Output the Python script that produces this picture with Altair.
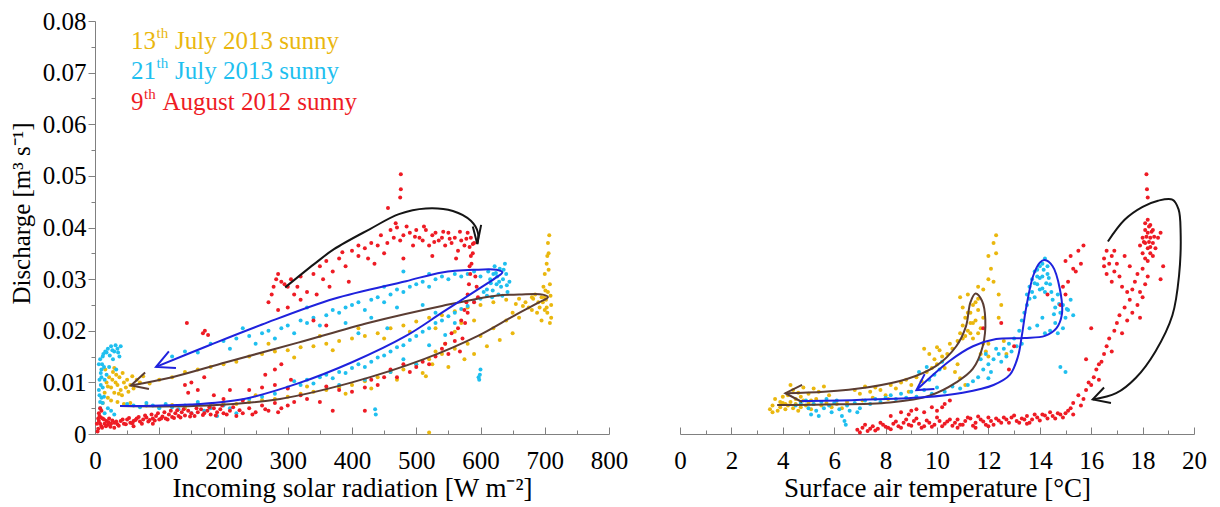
import altair as alt
import pandas as pd

FONT = "Liberation Serif"
W, H = 514, 413

# ---------------- series names / colours ----------------
SERIES = ["13th July 2013", "21th July 2013", "9th August 2012"]
CURVES = ["loop 13 July", "loop 21 July", "loop 9 August"]
COLORS = ["#EAB70E", "#1FBFEF", "#EE1B24"]
CURVE_COLORS = ["#5B3D33", "#1F22DD", "#151515"]

# ---------------- tick values ----------------
XL_TICKS = [0, 50, 100, 150, 200, 250, 300, 350, 400, 450, 500, 550, 600, 650, 700, 750, 800]
XR_TICKS = [0, 1, 2, 3, 4, 5, 6, 7, 8, 9, 10, 11, 12, 13, 14, 15, 16, 17, 18, 19, 20]
Y_TICKS = [0, 0.005, 0.01, 0.015, 0.02, 0.025, 0.03, 0.035, 0.04, 0.045, 0.05,
           0.055, 0.06, 0.065, 0.07, 0.075, 0.08]

# ---------------- left panel: radiation [W m-2] vs discharge ----------------
L_GOLD = [
    (12, 0.006), (15, 0.008), (18, 0.010), (20, 0.007), (22, 0.011), (25, 0.009), (28, 0.012),
    (30, 0.008), (32, 0.010), (35, 0.0095), (38, 0.011), (40, 0.0085), (42, 0.0075), (45, 0.010),
    (48, 0.009), (50, 0.0105), (55, 0.0095), (60, 0.0088), (25, 0.0065), (35, 0.0062), (45, 0.0058),
    (55, 0.006), (16, 0.0125), (30, 0.0128), (65, 0.0105), (70, 0.010), (75, 0.0112), (85, 0.0098),
    (20, 0.0092), (27, 0.0105), (33, 0.0115), (37, 0.0078), (43, 0.0118), (52, 0.0082), (58, 0.0112),
    (80, 0.0055), (100, 0.0052), (120, 0.0056), (140, 0.0050), (160, 0.0058), (180, 0.0055),
    (200, 0.006), (220, 0.0058), (240, 0.0062), (260, 0.0066), (280, 0.0068), (300, 0.0072),
    (320, 0.0078), (340, 0.0082), (360, 0.0085), (380, 0.009), (400, 0.0095), (420, 0.0102),
    (440, 0.011), (460, 0.012), (480, 0.0125), (500, 0.0135), (520, 0.0145), (540, 0.0155),
    (560, 0.0165), (580, 0.0175), (600, 0.019), (620, 0.0205), (640, 0.022), (660, 0.0225),
    (680, 0.024), (250, 0.0075), (330, 0.0092), (390, 0.0078), (430, 0.0088), (470, 0.0105),
    (510, 0.0118), (550, 0.013), (575, 0.0145), (590, 0.0155), (610, 0.017), (630, 0.0182),
    (650, 0.0195), (560, 0.0198), (530, 0.016), (545, 0.0175), (515, 0.0112), (525, 0.0135),
    (100, 0.0105), (120, 0.011), (140, 0.012), (160, 0.0125), (180, 0.013), (200, 0.0135),
    (220, 0.014), (240, 0.015), (260, 0.0155), (280, 0.016), (300, 0.0162), (320, 0.0168),
    (340, 0.017), (360, 0.0175), (380, 0.018), (400, 0.0185), (420, 0.019), (440, 0.0195),
    (460, 0.0205), (480, 0.021), (500, 0.0218), (520, 0.0225), (540, 0.023), (560, 0.0238),
    (580, 0.0245), (600, 0.025), (620, 0.0255), (640, 0.026), (660, 0.0262), (680, 0.0265),
    (310, 0.0148), (370, 0.0162), (450, 0.0185), (530, 0.0205), (590, 0.022), (650, 0.0235),
    (270, 0.0175), (350, 0.019), (410, 0.0205), (490, 0.0198), (570, 0.0215),
    (695, 0.022), (700, 0.024), (702, 0.026), (705, 0.0275), (708, 0.029), (700, 0.031),
    (703, 0.033), (706, 0.035), (705, 0.037), (707, 0.0385), (698, 0.0285), (710, 0.0225),
    (690, 0.0255), (685, 0.027), (695, 0.0265), (708, 0.0215), (703, 0.0245), (710, 0.025),
    (700, 0.0265), (670, 0.0255), (675, 0.0245), (688, 0.0235), (520, 0.0003),
    (692, 0.0245), (697, 0.0255), (704, 0.0235), (709, 0.0268), (701, 0.0278), (706, 0.0318),
    (704, 0.0345), (682, 0.0262), (666, 0.0248), (655, 0.0252),
]
L_CYAN = [
    (8, 0.005), (10, 0.007), (12, 0.009), (10, 0.011), (14, 0.013), (12, 0.015), (16, 0.016),
    (20, 0.0165), (25, 0.017), (30, 0.016), (35, 0.0165), (38, 0.015), (40, 0.017), (28, 0.0145),
    (22, 0.013), (18, 0.0115), (15, 0.0105), (10, 0.0125), (8, 0.0145), (6, 0.0135), (12, 0.006),
    (20, 0.005), (15, 0.004), (25, 0.0045), (30, 0.0038), (6, 0.0085), (9, 0.0095), (33, 0.0125),
    (7, 0.0105), (9, 0.0118), (11, 0.0135), (13, 0.0155), (18, 0.0158), (23, 0.0152), (27, 0.0162),
    (32, 0.0172), (36, 0.0158), (7, 0.0075), (8, 0.0062), (14, 0.0072),
    (50, 0.0058), (60, 0.0055), (70, 0.0052), (80, 0.006), (90, 0.0055), (100, 0.005), (110, 0.0058),
    (120, 0.0052), (130, 0.0048), (140, 0.0055), (150, 0.004), (160, 0.0062), (170, 0.0045),
    (180, 0.005), (190, 0.0035), (200, 0.0055), (210, 0.005), (220, 0.004), (240, 0.0068),
    (260, 0.0072), (280, 0.0078), (300, 0.009), (310, 0.0102), (320, 0.0095), (330, 0.0105),
    (340, 0.0098), (350, 0.011), (360, 0.0115), (370, 0.0108), (380, 0.012), (390, 0.0118),
    (400, 0.0128), (410, 0.0135), (420, 0.013), (430, 0.014), (440, 0.0148), (450, 0.0152),
    (460, 0.016), (470, 0.0168), (480, 0.0172), (490, 0.0182), (500, 0.019), (510, 0.0198),
    (520, 0.0205), (530, 0.0215), (540, 0.022), (550, 0.0228), (560, 0.0235), (570, 0.0242),
    (580, 0.0248), (590, 0.0256), (600, 0.0262), (610, 0.0268), (460, 0.012), (500, 0.0135),
    (480, 0.0145), (520, 0.0172), (545, 0.0192), (420, 0.0105), (380, 0.0095),
    (598, 0.0105), (599, 0.0115), (600, 0.0125), (597, 0.011), (436, 0.0048), (437, 0.0038),
    (120, 0.015), (140, 0.016), (160, 0.0158), (180, 0.0175), (200, 0.018), (210, 0.0165),
    (220, 0.0185), (240, 0.019), (250, 0.0175), (260, 0.0195), (270, 0.020), (280, 0.0185),
    (290, 0.0205), (300, 0.021), (310, 0.0195), (320, 0.022), (330, 0.0215), (340, 0.0225),
    (350, 0.021), (360, 0.023), (370, 0.024), (380, 0.0235), (390, 0.0245), (400, 0.025),
    (410, 0.0255), (420, 0.024), (430, 0.026), (440, 0.0265), (450, 0.0255), (460, 0.027),
    (470, 0.028), (480, 0.0275), (490, 0.0285), (500, 0.029), (510, 0.0295), (520, 0.0285),
    (530, 0.030), (540, 0.0305), (550, 0.030), (560, 0.031), (570, 0.0305), (580, 0.031),
    (590, 0.0315), (600, 0.0305), (230, 0.0205), (330, 0.0245), (430, 0.0225), (470, 0.0245),
    (510, 0.025), (390, 0.0215), (450, 0.0285), (520, 0.031), (480, 0.0315), (455, 0.0205),
    (530, 0.0235), (560, 0.0215), (410, 0.0195),
    (610, 0.028), (615, 0.030), (620, 0.031), (625, 0.029), (630, 0.032), (635, 0.030),
    (640, 0.031), (628, 0.027), (618, 0.0265), (632, 0.0285), (645, 0.0295), (622, 0.0325),
    (638, 0.033), (605, 0.0275), (612, 0.0315), (642, 0.0275), (626, 0.0305), (634, 0.0268),
    (616, 0.0292), (624, 0.0312), (636, 0.0318), (641, 0.0288), (629, 0.0295), (619, 0.0278),
]
L_RED = [
    (5, 0.001), (5, 0.003), (6, 0.004), (8, 0.002), (10, 0.0015), (12, 0.003), (15, 0.002),
    (18, 0.0025), (20, 0.0018), (25, 0.002), (30, 0.0022), (35, 0.0019), (40, 0.0025), (45, 0.002),
    (50, 0.0028), (55, 0.0022), (60, 0.0025), (65, 0.003), (70, 0.0024), (75, 0.0028), (80, 0.0032),
    (85, 0.0027), (90, 0.003), (95, 0.0035), (100, 0.0028), (105, 0.0034), (110, 0.003),
    (115, 0.0038), (120, 0.0033), (125, 0.004), (130, 0.0035), (135, 0.0042), (140, 0.0036),
    (145, 0.0045), (150, 0.004), (155, 0.0035), (160, 0.0042), (165, 0.0048), (170, 0.004),
    (175, 0.0045), (180, 0.0038), (185, 0.005), (190, 0.0042), (195, 0.0048), (200, 0.004),
    (210, 0.0045), (220, 0.0035), (230, 0.004), (240, 0.005), (250, 0.0042), (260, 0.0055),
    (270, 0.0045), (280, 0.006), (290, 0.005), (300, 0.0055), (310, 0.0062), (8, 0.005),
    (10, 0.0045), (7, 0.0035), (3, 0.002), (30, 0.0012), (60, 0.0015), (90, 0.002), (22, 0.003),
    (4, 0.0005), (6, 0.0025), (9, 0.0032), (11, 0.0012), (14, 0.0028), (17, 0.0015), (21, 0.0023),
    (24, 0.0014), (27, 0.0026), (33, 0.0024), (37, 0.0016), (43, 0.0028), (48, 0.0019),
    (53, 0.0031), (58, 0.0021), (63, 0.0027), (68, 0.0033), (73, 0.002), (78, 0.0036),
    (83, 0.0024), (88, 0.0038), (93, 0.0026), (98, 0.004), (103, 0.003), (108, 0.0042),
    (113, 0.0028), (118, 0.0045), (123, 0.0031), (128, 0.0046), (133, 0.0032), (138, 0.0048),
    (148, 0.0034), (158, 0.005), (168, 0.0037), (178, 0.0052), (188, 0.0036), (198, 0.0055),
    (205, 0.0038), (215, 0.0052), (225, 0.0046), (245, 0.0038), (265, 0.0048), (285, 0.0042),
    (140, 0.0095), (150, 0.010), (160, 0.0085), (170, 0.011), (145, 0.008), (185, 0.0075),
    (200, 0.0068), (230, 0.0065), (240, 0.0085), (260, 0.009), (280, 0.0095), (300, 0.0088),
    (320, 0.0075), (330, 0.0068), (350, 0.0062), (360, 0.0092), (380, 0.0085), (400, 0.0082),
    (420, 0.009), (430, 0.0105), (440, 0.0095), (450, 0.011), (460, 0.0125), (470, 0.011),
    (480, 0.0135), (490, 0.012), (500, 0.013), (510, 0.014), (520, 0.0135), (530, 0.015),
    (540, 0.0165), (550, 0.0155), (560, 0.018), (565, 0.0205), (570, 0.022), (575, 0.024),
    (578, 0.0255), (580, 0.027), (582, 0.029), (584, 0.031), (586, 0.033), (588, 0.035),
    (585, 0.0345), (583, 0.0325), (576, 0.0215), (572, 0.0185), (568, 0.016), (555, 0.0195),
    (545, 0.0175), (580, 0.0235), (590, 0.0255), (592, 0.0305), (594, 0.0285), (596, 0.0265),
    (420, 0.0045), (370, 0.0045), (265, 0.0115), (280, 0.0125), (290, 0.0135), (305, 0.0105),
    (210, 0.0085), (171, 0.020), (176, 0.0192), (168, 0.0195), (143, 0.0215),
    (270, 0.0255), (275, 0.027), (278, 0.0285), (282, 0.030), (285, 0.031), (290, 0.0295),
    (295, 0.029), (300, 0.0285), (305, 0.030), (310, 0.027), (315, 0.0285), (320, 0.0305),
    (330, 0.0275), (340, 0.031), (350, 0.0325), (355, 0.030), (360, 0.0335), (370, 0.0315),
    (380, 0.034), (390, 0.0325), (400, 0.0355), (410, 0.0345), (420, 0.036), (425, 0.034),
    (430, 0.037), (440, 0.0365), (445, 0.0385), (450, 0.035), (455, 0.037), (460, 0.0395),
    (465, 0.038), (470, 0.040), (475, 0.0375), (480, 0.0385), (490, 0.039), (495, 0.0365),
    (500, 0.0395), (505, 0.038), (510, 0.0375), (515, 0.0395), (520, 0.0365), (525, 0.0385),
    (530, 0.039), (535, 0.0375), (540, 0.038), (545, 0.0365), (550, 0.039), (555, 0.037),
    (560, 0.038), (565, 0.0355), (570, 0.0375), (575, 0.0365), (580, 0.039), (585, 0.038),
    (588, 0.0368), (590, 0.037), (345, 0.027), (365, 0.0285), (395, 0.0295), (435, 0.033),
    (480, 0.034), (525, 0.0345), (562, 0.034), (300, 0.0245), (320, 0.026), (285, 0.024),
    (476, 0.0503), (476, 0.0474), (475, 0.0458), (456, 0.0438), (340, 0.022), (360, 0.021),
    (468, 0.0408), (485, 0.0402), (498, 0.0382), (512, 0.0402), (528, 0.0372), (542, 0.0392),
    (552, 0.0378), (568, 0.0392), (578, 0.0378), (583, 0.0362), (410, 0.0365), (385, 0.0352),
]

# ---------------- right panel: air temperature [degC] vs discharge ----------------
R_GOLD = [
    (3.5, 0.0048), (3.6, 0.0055), (3.8, 0.0045), (3.9, 0.0052), (4.0, 0.006), (4.1, 0.0048),
    (4.2, 0.0055), (4.3, 0.0062), (4.4, 0.005), (4.5, 0.0058), (4.6, 0.0045), (4.7, 0.0052),
    (4.8, 0.0065), (4.9, 0.0055), (5.0, 0.006), (5.1, 0.0048), (5.2, 0.0058), (5.3, 0.0068),
    (5.5, 0.0055), (5.7, 0.006), (5.9, 0.0052), (6.1, 0.0058), (6.3, 0.005), (6.5, 0.0062),
    (4.2, 0.0075), (4.4, 0.0085), (4.6, 0.008), (4.8, 0.009), (5.0, 0.0078), (5.2, 0.0088),
    (5.4, 0.0082), (5.6, 0.0092), (5.8, 0.0075), (4.0, 0.0072), (3.7, 0.0068), (4.3, 0.0095),
    (3.6, 0.0042), (3.9, 0.0062), (4.1, 0.0058), (4.5, 0.0068), (4.7, 0.0072), (5.1, 0.0065),
    (6.8, 0.0085), (7.0, 0.0078), (7.2, 0.0092), (7.4, 0.0082), (7.6, 0.009), (7.8, 0.0085),
    (8.0, 0.0075), (8.2, 0.0095), (8.4, 0.0088), (8.6, 0.010), (8.8, 0.0105), (9.0, 0.0095),
    (9.2, 0.011), (7.1, 0.0065), (7.5, 0.007), (8.1, 0.0068), (8.9, 0.0082), (9.4, 0.0102),
    (9.6, 0.012), (9.8, 0.0128), (10.0, 0.0135), (10.2, 0.015), (9.9, 0.0145), (10.1, 0.0162),
    (10.4, 0.0155), (10.5, 0.0175), (10.6, 0.0165), (10.3, 0.0128), (10.7, 0.012), (10.9, 0.0108),
    (11.1, 0.0095), (10.8, 0.0135), (9.7, 0.0155), (10.0, 0.0168), (9.5, 0.0165),
    (10.8, 0.018), (10.9, 0.0195), (11.0, 0.021), (11.1, 0.0225), (11.2, 0.020), (11.3, 0.0235),
    (11.4, 0.025), (11.5, 0.022), (11.6, 0.024), (11.7, 0.0205), (11.0, 0.0245), (10.9, 0.0265),
    (11.2, 0.027), (11.4, 0.0185), (11.6, 0.0195), (11.8, 0.0225), (11.3, 0.0215), (11.5, 0.0255),
    (11.1, 0.019), (11.8, 0.0175), (11.9, 0.016), (12.0, 0.015), (11.7, 0.0155), (12.0, 0.0175),
    (11.2, 0.0235), (11.4, 0.0215), (11.6, 0.0262), (11.0, 0.0185), (11.3, 0.0195),
    (11.8, 0.028), (12.0, 0.030), (12.1, 0.032), (12.2, 0.0295), (12.3, 0.035), (12.2, 0.037),
    (12.3, 0.0385), (12.0, 0.0345), (12.4, 0.027), (12.5, 0.025), (11.6, 0.0285), (12.4, 0.0225),
    (12.6, 0.018), (12.7, 0.0155),
]
R_CYAN = [
    (4.5, 0.0055), (4.7, 0.006), (4.9, 0.0065), (5.0, 0.005), (5.2, 0.0058), (5.3, 0.0045),
    (5.5, 0.0062), (5.6, 0.005), (5.8, 0.0055), (5.9, 0.0042), (6.0, 0.006), (6.2, 0.0048),
    (6.3, 0.0035), (6.4, 0.0025), (6.45, 0.0018), (6.5, 0.0055), (6.6, 0.0045), (6.8, 0.006),
    (7.0, 0.005), (7.2, 0.0065), (7.4, 0.0058), (7.6, 0.0068), (7.8, 0.0062), (8.0, 0.007),
    (5.1, 0.0038), (5.4, 0.0035), (6.1, 0.0065), (6.9, 0.0042), (5.7, 0.0068),
    (8.2, 0.0075), (8.4, 0.0068), (8.6, 0.0078), (8.8, 0.007), (9.0, 0.0082), (9.2, 0.0072),
    (9.5, 0.0085), (9.8, 0.0078), (10.0, 0.009), (10.3, 0.0082), (10.6, 0.0092), (10.9, 0.0088),
    (9.3, 0.012), (9.6, 0.013), (9.9, 0.0115), (10.1, 0.0125), (9.7, 0.0105), (10.2, 0.014),
    (11.2, 0.0095), (11.4, 0.0102), (11.6, 0.011), (11.8, 0.0125), (12.0, 0.0135), (12.1, 0.012),
    (12.2, 0.0145), (12.4, 0.0155), (12.5, 0.014), (12.6, 0.0165), (12.7, 0.015), (12.8, 0.0175),
    (12.9, 0.016), (13.0, 0.0185), (13.1, 0.017), (11.9, 0.0155), (12.3, 0.0165), (11.7, 0.0145),
    (12.0, 0.0108),
    (13.2, 0.020), (13.3, 0.022), (13.4, 0.0235), (13.5, 0.025), (13.5, 0.027), (13.6, 0.0285),
    (13.7, 0.030), (13.8, 0.0315), (13.9, 0.029), (14.0, 0.0325), (14.1, 0.0305), (14.2, 0.034),
    (14.3, 0.031), (14.0, 0.028), (13.8, 0.0265), (14.2, 0.0275), (14.4, 0.029), (14.5, 0.026),
    (14.6, 0.0245), (14.7, 0.027), (14.8, 0.0235), (14.9, 0.025), (15.0, 0.0225), (15.1, 0.024),
    (15.2, 0.026), (15.3, 0.023), (14.6, 0.0215), (14.4, 0.020), (14.2, 0.0195), (13.9, 0.021),
    (13.6, 0.0205), (14.1, 0.0225), (14.7, 0.0195), (14.9, 0.0205), (13.3, 0.0175), (14.8, 0.013),
    (15.0, 0.012), (13.9, 0.0305), (14.1, 0.033), (14.3, 0.0325), (13.7, 0.0275),
    (13.6, 0.0262), (13.8, 0.0292), (13.9, 0.0318), (14.0, 0.0302), (14.15, 0.0318), (14.25, 0.0292),
    (14.35, 0.0302), (14.1, 0.0282), (14.45, 0.0275), (14.55, 0.0232), (14.75, 0.0252), (15.05, 0.0242),
]
R_RED = [
    (6.9, 0.0008), (7.1, 0.0012), (7.3, 0.0006), (7.5, 0.0015), (7.7, 0.001), (7.9, 0.0018),
    (8.1, 0.0012), (8.3, 0.002), (8.5, 0.0015), (8.7, 0.0022), (8.9, 0.0018), (9.1, 0.0025),
    (9.3, 0.002), (9.5, 0.0015), (9.7, 0.0022), (9.9, 0.0018), (10.1, 0.0025), (10.3, 0.002),
    (10.5, 0.0028), (10.7, 0.0022), (10.9, 0.0018), (11.1, 0.0025), (11.3, 0.003), (11.5, 0.0022),
    (11.7, 0.0028), (11.9, 0.0018), (12.1, 0.0025), (12.3, 0.003), (12.5, 0.0022), (12.7, 0.0028),
    (12.9, 0.0032), (13.1, 0.0025), (13.3, 0.003), (13.5, 0.0035), (13.7, 0.0028), (13.9, 0.0032),
    (14.1, 0.0038), (14.3, 0.003), (14.5, 0.0035), (14.7, 0.004), (14.9, 0.0032), (15.1, 0.0045),
    (15.3, 0.0038), (8.2, 0.0035), (8.6, 0.0042), (8.9, 0.0038), (9.2, 0.0048), (9.5, 0.0042),
    (9.8, 0.0052), (10.0, 0.0045), (10.3, 0.0058), (10.5, 0.0065), (10.2, 0.0052), (9.0, 0.0045),
    (11.5, 0.0012), (12.0, 0.0015), (10.8, 0.0012), (13.5, 0.002),
    (7.0, 0.0003), (7.2, 0.0018), (7.4, 0.001), (7.6, 0.0007), (7.8, 0.0022), (8.0, 0.0014),
    (8.2, 0.0009), (8.4, 0.0024), (8.6, 0.0012), (8.8, 0.0028), (9.0, 0.0016), (9.2, 0.003),
    (9.4, 0.0012), (9.6, 0.0026), (9.8, 0.0014), (10.0, 0.0032), (10.2, 0.0015), (10.4, 0.0024),
    (10.6, 0.0016), (10.8, 0.0028), (11.0, 0.0018), (11.2, 0.0032), (11.4, 0.0016), (11.6, 0.0034),
    (11.8, 0.0024), (12.0, 0.0032), (12.2, 0.0018), (12.4, 0.0026), (12.6, 0.0032), (12.8, 0.0022),
    (13.0, 0.0036), (13.2, 0.0022), (13.4, 0.0028), (13.6, 0.0022), (13.8, 0.0038), (14.0, 0.0026),
    (14.2, 0.0036), (14.4, 0.0042), (14.6, 0.003), (14.8, 0.0038), (15.0, 0.004), (15.2, 0.005),
    (15.3, 0.006), (15.5, 0.0075), (15.6, 0.0055), (15.8, 0.0085), (15.9, 0.010), (15.7, 0.0068),
    (16.0, 0.0095), (16.1, 0.011), (16.2, 0.0125), (16.3, 0.0105), (16.4, 0.014), (16.5, 0.0155),
    (16.3, 0.0135), (16.6, 0.017), (16.7, 0.0185), (16.8, 0.016), (16.9, 0.020), (17.0, 0.0215),
    (17.1, 0.023), (17.2, 0.0195), (17.3, 0.0245), (17.4, 0.022), (17.5, 0.026), (17.6, 0.028),
    (17.4, 0.0275), (17.7, 0.0295), (17.8, 0.031), (17.6, 0.0235), (17.8, 0.025), (17.9, 0.0275),
    (18.0, 0.0265), (17.9, 0.0225), (18.1, 0.029), (18.2, 0.0305), (18.0, 0.032),
    (18.0, 0.035), (18.1, 0.037), (18.2, 0.036), (18.3, 0.038), (18.2, 0.039), (18.1, 0.0395),
    (18.3, 0.0405), (18.4, 0.037), (18.0, 0.038), (18.2, 0.0415), (18.4, 0.0395), (18.5, 0.036),
    (18.1, 0.034), (18.3, 0.035), (18.6, 0.038), (18.7, 0.039), (17.9, 0.0365), (18.2, 0.0335),
    (18.4, 0.0345), (18.15, 0.0503), (18.17, 0.0474), (18.2, 0.0458), (18.8, 0.0325), (18.7, 0.030),
    (18.05, 0.0372), (18.15, 0.0382), (18.25, 0.0372), (18.35, 0.0392), (18.25, 0.0402),
    (18.1, 0.0408), (18.3, 0.0362), (18.45, 0.0382),
    (16.5, 0.034), (16.6, 0.0355), (16.7, 0.033), (16.8, 0.0345), (16.9, 0.0315), (17.0, 0.033),
    (16.6, 0.031), (16.8, 0.0295), (17.1, 0.0305), (16.5, 0.0325), (17.2, 0.0285), (16.9, 0.0355),
    (17.3, 0.0345), (17.5, 0.0325), (15.3, 0.032),
    (15.0, 0.0335), (15.2, 0.0345), (15.4, 0.0315), (15.6, 0.033), (15.1, 0.0295), (14.9, 0.0285),
    (15.0, 0.027), (15.5, 0.0355), (14.8, 0.025), (15.7, 0.0365),
    (13.0, 0.017), (12.5, 0.0215), (11.8, 0.0205), (12.8, 0.0125), (14.3, 0.027), (16.0, 0.0205),
    (15.8, 0.0145),
]

# ---------------- hand-drawn hysteresis loops (path order) ----------------
L_LOOP_13 = [(39, 0.0054), (176, 0.0055), (288, 0.0068), (400, 0.0100), (512, 0.0145),
             (596, 0.0190), (652, 0.0229), (691, 0.0255), (705, 0.0265), (697, 0.0270),
             (660, 0.0270), (624, 0.0268), (540, 0.0248), (428, 0.0216), (316, 0.0177),
             (204, 0.0139), (120, 0.0110), (56, 0.0094)]
L_LOOP_21 = [(39, 0.0054), (148, 0.0057), (232, 0.0068), (316, 0.0098), (400, 0.0139),
             (484, 0.0190), (540, 0.0235), (596, 0.0280), (624, 0.0303), (634, 0.0313),
             (625, 0.0318), (590, 0.0318), (540, 0.0313), (484, 0.0296), (372, 0.0262),
             (260, 0.0212), (176, 0.0171), (95, 0.0130)]
L_LOOP_09 = [(296, 0.0284), (341, 0.0329), (372, 0.0358), (428, 0.0397), (473, 0.0426),
             (515, 0.0437), (557, 0.0432), (585, 0.0413), (596, 0.0390), (595, 0.0368)]
R_LOOP_13 = [(3.78, 0.0056), (5.6, 0.0057), (8.17, 0.0061), (9.7, 0.0074), (10.75, 0.0100),
             (11.39, 0.0126), (11.78, 0.0170), (11.88, 0.0222), (11.75, 0.0258), (11.5, 0.0272),
             (11.3, 0.0255), (11.13, 0.0209), (10.75, 0.0170), (9.97, 0.0132), (8.8, 0.0106),
             (7.26, 0.0090), (5.6, 0.0082), (4.1, 0.0079)]
R_LOOP_21 = [(4.68, 0.0064), (6.88, 0.0066), (9.46, 0.0071), (11.0, 0.0080), (12.2, 0.0095),
             (12.84, 0.0115), (13.15, 0.0150), (13.3, 0.0190), (13.46, 0.0242), (13.74, 0.0306),
             (14.0, 0.0332), (14.19, 0.0337), (14.5, 0.0325), (14.78, 0.0281), (14.86, 0.0232),
             (14.65, 0.0205), (14.2, 0.0190), (13.4, 0.0186), (12.3, 0.0184), (11.4, 0.0170),
             (10.5, 0.0142), (9.7, 0.0108), (9.2, 0.0085)]
R_LOOP_09 = [(16.65, 0.0373), (17.3, 0.0415), (18.0, 0.0440), (18.6, 0.0452), (19.16, 0.0454),
             (19.4, 0.0435), (19.48, 0.0390), (19.42, 0.0308), (19.16, 0.0230), (18.5, 0.0160),
             (17.74, 0.0109), (16.97, 0.0079), (16.06, 0.0067)]

# arrow heads: arm end, tip, arm end
L_HEAD_13 = [(78, 0.0119), (56, 0.0094), (84, 0.0087)]
L_HEAD_21 = [(115, 0.0160), (95, 0.0130), (126, 0.0128)]
L_HEAD_09 = [(588, 0.0402), (595, 0.0368), (601, 0.0405)]
R_HEAD_13 = [(4.75, 0.0095), (4.1, 0.0079), (4.75, 0.0062)]
R_HEAD_21 = [(9.52, 0.0116), (9.2, 0.0085), (9.9, 0.0087)]
R_HEAD_09 = [(16.5, 0.0090), (16.06, 0.0067), (16.77, 0.0060)]

# ---------------- legend text ----------------
LEG_NUM = ["13", "21", "9"]
LEG_REST = ["July 2013 sunny", "July 2013 sunny", "August 2012 sunny"]
LEG_Q = [0.0761, 0.0703, 0.0643]
LEG_X = 56


def frame(pairs, name):
    df = pd.DataFrame(pairs, columns=["x", "q"])
    df["s"] = name
    df["i"] = range(len(df))
    return df


color_scale = alt.Scale(domain=SERIES + CURVES, range=COLORS + CURVE_COLORS)
color = alt.Color("s:N", scale=color_scale, legend=None)
yscale = alt.Scale(domain=[0, 0.08], nice=False, zero=False)
Y_AXIS = alt.Axis(
    values=Y_TICKS,
    labelExpr="round(datum.value*1000) % 10 === 0 ? (datum.value === 0 ? '0' : format(datum.value, '.2f')) : ''",
    tickSize={"condition": {"test": "round(datum.value*1000) % 10 === 0", "value": 7}, "value": 4},
    labelPadding=2,
    title="Discharge [m³ s⁻¹]",
    titleFontSize=25,
    titlePadding=8,
    titleY=192,
)


def panel(points, loops, heads, domain, ticks, major, title, show_y, legend=False):
    xscale = alt.Scale(domain=domain, nice=False, zero=False)
    bottom_axis = alt.Axis(
        values=ticks,
        labelExpr=f"datum.value % {major} === 0 ? datum.label : ''",
        ticks=False, tickSize=0, labelPadding=14,
        title=title, titlePadding=2,
    )
    tick_axis = alt.Axis(
        orient="top", offset=-H, values=ticks, labels=False, domain=False, title=None,
        tickSize={"condition": {"test": f"datum.value % {major} === 0", "value": 7}, "value": 4},
    )
    yax = Y_AXIS if show_y else None
    pts = alt.Chart(points).mark_circle(size=16, opacity=1).encode(
        x=alt.X("x:Q", scale=xscale, axis=bottom_axis),
        y=alt.Y("q:Q", scale=yscale, axis=yax),
        color=color,
    )
    lines = alt.Chart(loops).mark_line(strokeWidth=2, interpolate="catmull-rom").encode(
        x=alt.X("x:Q", scale=xscale, axis=tick_axis),
        y=alt.Y("q:Q", scale=yscale, axis=yax),
        color=color,
        order=alt.Order("i:Q"),
    )
    arrows = alt.Chart(heads).mark_line(strokeWidth=2).encode(
        x=alt.X("x:Q", scale=xscale, axis=None),
        y=alt.Y("q:Q", scale=yscale, axis=yax),
        color=color,
        order=alt.Order("i:Q"),
    )
    layers = [pts, lines, arrows]
    if legend:
        for num, rest, q, c in zip(LEG_NUM, LEG_REST, LEG_Q, COLORS):
            nw = 12.5 * len(num)
            base = alt.Chart(pd.DataFrame({"a": [0]}))
            enc = dict(x=alt.datum(LEG_X, scale=xscale, axis=None),
                       y=alt.datum(q, scale=yscale, axis=yax))
            layers.append(base.mark_text(text=num, align="left", baseline="middle", font=FONT,
                                         fontSize=25, color=c).encode(**enc))
            layers.append(base.mark_text(text="th", align="left", baseline="middle", font=FONT,
                                         fontSize=15, color=c, dx=nw + 0.5, dy=-8).encode(**enc))
            layers.append(base.mark_text(text=rest, align="left", baseline="middle", font=FONT,
                                         fontSize=25, color=c, dx=nw + 19).encode(**enc))
    return alt.layer(*layers).resolve_axis(x="independent").properties(width=W, height=H)


left_points = pd.concat([frame(L_GOLD, SERIES[0]), frame(L_CYAN, SERIES[1]), frame(L_RED, SERIES[2])])
right_points = pd.concat([frame(R_GOLD, SERIES[0]), frame(R_CYAN, SERIES[1]), frame(R_RED, SERIES[2])])
left_loops = pd.concat([frame(L_LOOP_13, CURVES[0]), frame(L_LOOP_21, CURVES[1]), frame(L_LOOP_09, CURVES[2])])
right_loops = pd.concat([frame(R_LOOP_13, CURVES[0]), frame(R_LOOP_21, CURVES[1]), frame(R_LOOP_09, CURVES[2])])
left_heads = pd.concat([frame(L_HEAD_13, CURVES[0]), frame(L_HEAD_21, CURVES[1]), frame(L_HEAD_09, CURVES[2])])
right_heads = pd.concat([frame(R_HEAD_13, CURVES[0]), frame(R_HEAD_21, CURVES[1]), frame(R_HEAD_09, CURVES[2])])

left = panel(left_points, left_loops, left_heads, [0, 800], XL_TICKS, 100,
             "Incoming solar radiation [W m⁻²]", True, legend=True)
right = panel(right_points, right_loops, right_heads, [0, 20], XR_TICKS, 2,
              "Surface air temperature [°C]", False)

chart = alt.HConcatChart(hconcat=[left, right], spacing=71, bounds="flush").properties(
    padding={"left": 9, "top": 9, "right": 10, "bottom": 4},
    background="white",
).configure_view(stroke=None).configure_axis(
    grid=False, labelFlush=False, labelOverlap=False,
    labelFont=FONT, labelFontSize=25, labelColor="black",
    titleFont=FONT, titleFontSize=27, titleFontWeight="normal", titleColor="black",
    domainColor="#808080", tickColor="#808080", domainWidth=1, tickWidth=1,
)

chart.save("out.html", embed_options={"renderer": "svg", "actions": False})
